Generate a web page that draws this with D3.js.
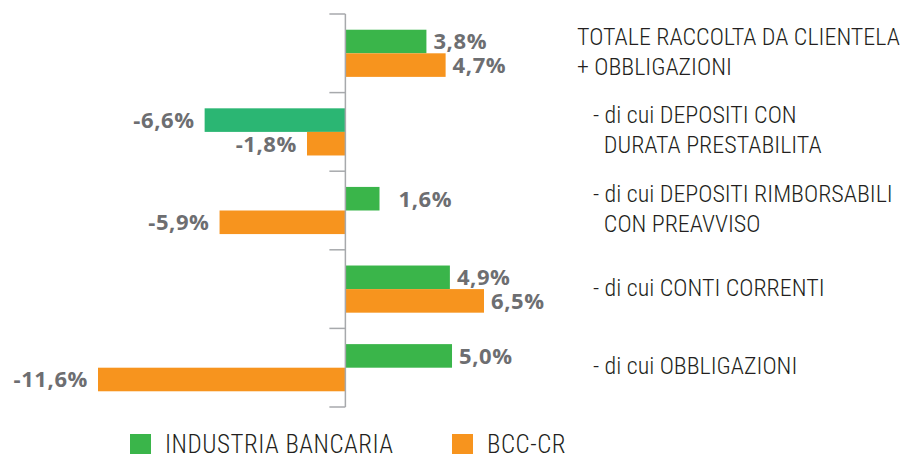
<!DOCTYPE html>
<html>
<head>
<meta charset="utf-8">
<script src="https://cdn.jsdelivr.net/npm/d3@7"></script>
<style>
  body { margin: 0; background: #fff; }
  .val { font-family: "Open Sans", sans-serif; font-weight: 700; fill: #6d6e71; font-size: 22px; letter-spacing: 0.6px; }
  .cat { font-family: "Roboto Condensed", "Liberation Sans Narrow", "DejaVu Sans Condensed", sans-serif; font-weight: 300; fill: #231f20; font-size: 24px; }
  .leg { font-family: "Roboto Condensed", "Liberation Sans Narrow", "DejaVu Sans Condensed", sans-serif; font-weight: 300; fill: #231f20; font-size: 25px; letter-spacing: 0.5px; }
</style>
</head>
<body>
<svg id="chart" width="910" height="454"></svg>
<script>
// data
let categories = ["TOTALE", "DEP_DURATA", "DEP_PREAVVISO", "CONTI", "OBBLIGAZIONI"];
let categoryLines = [
    ["TOTALE RACCOLTA DA CLIENTELA", "+ OBBLIGAZIONI"],
    ["- di cui DEPOSITI CON", "  DURATA PRESTABILITA"],
    ["- di cui DEPOSITI RIMBORSABILI", "  CON PREAVVISO"],
    ["- di cui CONTI CORRENTI"],
    ["- di cui OBBLIGAZIONI"]
];
let industria = [3.8, -6.6, 1.6, 4.9, 5.0];
let bcc = [4.7, -1.8, -5.9, 6.5, -11.6];
let seriesNames = ["INDUSTRIA BANCARIA", "BCC-CR"];

let svg = d3.select("#chart");
let green = "#3ab54a", green2 = "#2bb673", orange = "#f7941e";

let x = d3.scaleLinear().domain([-11.6, 6.5]).range([98, 484]);
let y = d3.scaleBand().domain(categories).range([14, 407]).paddingInner(0.4).paddingOuter(0.2);
let ySub = d3.scaleBand().domain(seriesNames).range([0, y.bandwidth()]);
let step = y.step();

let rows = [];
categories.forEach(function (c, i) {
    rows.push({cat: c, s: seriesNames[0], v: industria[i], i: i});
    rows.push({cat: c, s: seriesNames[1], v: bcc[i], i: i});
});

// bars
svg.append("g").selectAll("rect").data(rows).enter().append("rect")
    .attr("x", d => x(Math.min(0, d.v)))
    .attr("y", d => y(d.cat) + ySub(d.s))
    .attr("width", d => Math.abs(x(d.v) - x(0)))
    .attr("height", ySub.bandwidth())
    .attr("fill", d => d.s === seriesNames[1] ? orange : (d.i === 1 ? green2 : green));

// axis
let axis = svg.append("g");
axis.append("line")
    .attr("x1", x(0)).attr("x2", x(0))
    .attr("y1", 14).attr("y2", 407)
    .attr("stroke", "#a7a9ac").attr("stroke-width", 1.5);
let tickYs = d3.range(categories.length + 1).map(k => 14 + k * step);
axis.selectAll(".tick").data(tickYs).enter().append("line")
    .attr("x1", x(0) - 16).attr("x2", x(0))
    .attr("y1", d => d).attr("y2", d => d)
    .attr("stroke", "#a7a9ac").attr("stroke-width", 1.5);

// value labels
let fmt = v => v.toFixed(1).replace(".", ",") + "%";
svg.append("g").selectAll("text").data(rows).enter().append("text")
    .attr("class", "val")
    .attr("x", d => d.v >= 0 ? x(d.v) + (d.i === 2 ? 19 : 7) : x(d.v) - 10)
    .attr("y", d => y(d.cat) + ySub(d.s) + ySub.bandwidth() / 2)
    .attr("dy", "0.36em")
    .attr("text-anchor", d => d.v >= 0 ? "start" : "end")
    .text(d => fmt(d.v));

// category labels
let cg = svg.append("g");
categories.forEach(function (c, i) {
    let cy = y(c) + y.bandwidth() / 2;
    let lines = categoryLines[i];
    let t = cg.append("text").attr("class", "cat")
        .attr("x", i === 0 ? 577 : 593)
        .attr("y", lines.length > 1 ? cy - 8.5 : cy + 6.5)
        .attr("xml:space", "preserve");
    lines.forEach(function (l, k) {
        t.append("tspan").attr("x", i === 0 ? 577 : 593).attr("dy", k === 0 ? 0 : 30).text(l);
    });
});

// legend
let leg = svg.append("g");
let legX = [130, 452];
seriesNames.forEach(function (s, i) {
    leg.append("rect").attr("x", legX[i]).attr("y", 434).attr("width", 21).attr("height", 21)
        .attr("fill", i === 0 ? green : orange);
    leg.append("text").attr("class", "leg").attr("x", legX[i] + 35).attr("y", 453).text(s);
});
</script>
</body>
</html>
